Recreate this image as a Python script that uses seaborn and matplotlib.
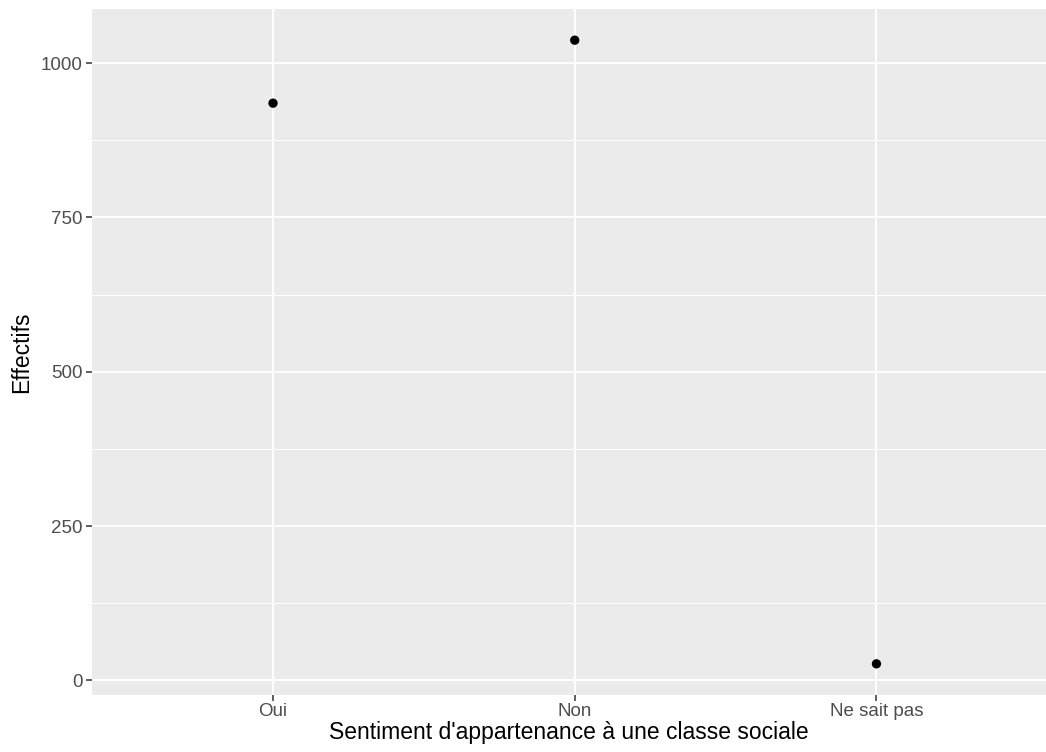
import pandas as pd
import matplotlib
matplotlib.use('Agg')
import matplotlib.pyplot as plt
import seaborn as sns
from matplotlib.ticker import MultipleLocator

categories = ['Oui', 'Non', 'Ne sait pas']
effectifs = [935, 1037, 27]

df = pd.DataFrame({'categorie': categories, 'effectifs': effectifs})

sns.set_theme(style='darkgrid', rc={
    'axes.facecolor': '#EBEBEB',
    'grid.color': 'white',
})
plt.rcParams['font.family'] = ['Liberation Sans', 'DejaVu Sans']

fig = plt.figure(figsize=(10.46, 7.52), dpi=100)
ax = fig.add_axes([92 / 1046, 1 - 695 / 752, 1 - 92 / 1046, (695 - 9) / 752])

sns.scatterplot(data=df, x='categorie', y='effectifs', color='black', s=45,
                edgecolor='none', ax=ax, zorder=3)

# limites comme ggplot (expansion)
ax.set_xlim(-0.6, 2.562)
lo, hi = min(effectifs), max(effectifs)
pad = (hi - lo) * 0.05
ax.set_ylim(lo - pad, hi + pad)

ax.yaxis.set_major_locator(MultipleLocator(250))
ax.yaxis.set_minor_locator(MultipleLocator(125))
ax.grid(which='major', color='white', linewidth=1.4)
ax.grid(which='minor', axis='y', color='white', linewidth=0.7)
ax.set_axisbelow(True)

for s in ax.spines.values():
    s.set_visible(False)

ax.tick_params(axis='both', which='major', length=4, width=1.1, color='#333333',
               labelcolor='#4D4D4D', labelsize=13.5, pad=3)
ax.tick_params(axis='x', pad=1.5)
ax.tick_params(axis='both', which='minor', length=0)
ax.tick_params(axis='x', bottom=True)
ax.tick_params(axis='y', left=True)

ax.set_xlabel("Sentiment d'appartenance à une classe sociale", fontsize=16.5,
              color='black', labelpad=1)
ax.set_ylabel('Effectifs', fontsize=16.5, color='black', labelpad=5)

fig.savefig('out.png', dpi=100)
